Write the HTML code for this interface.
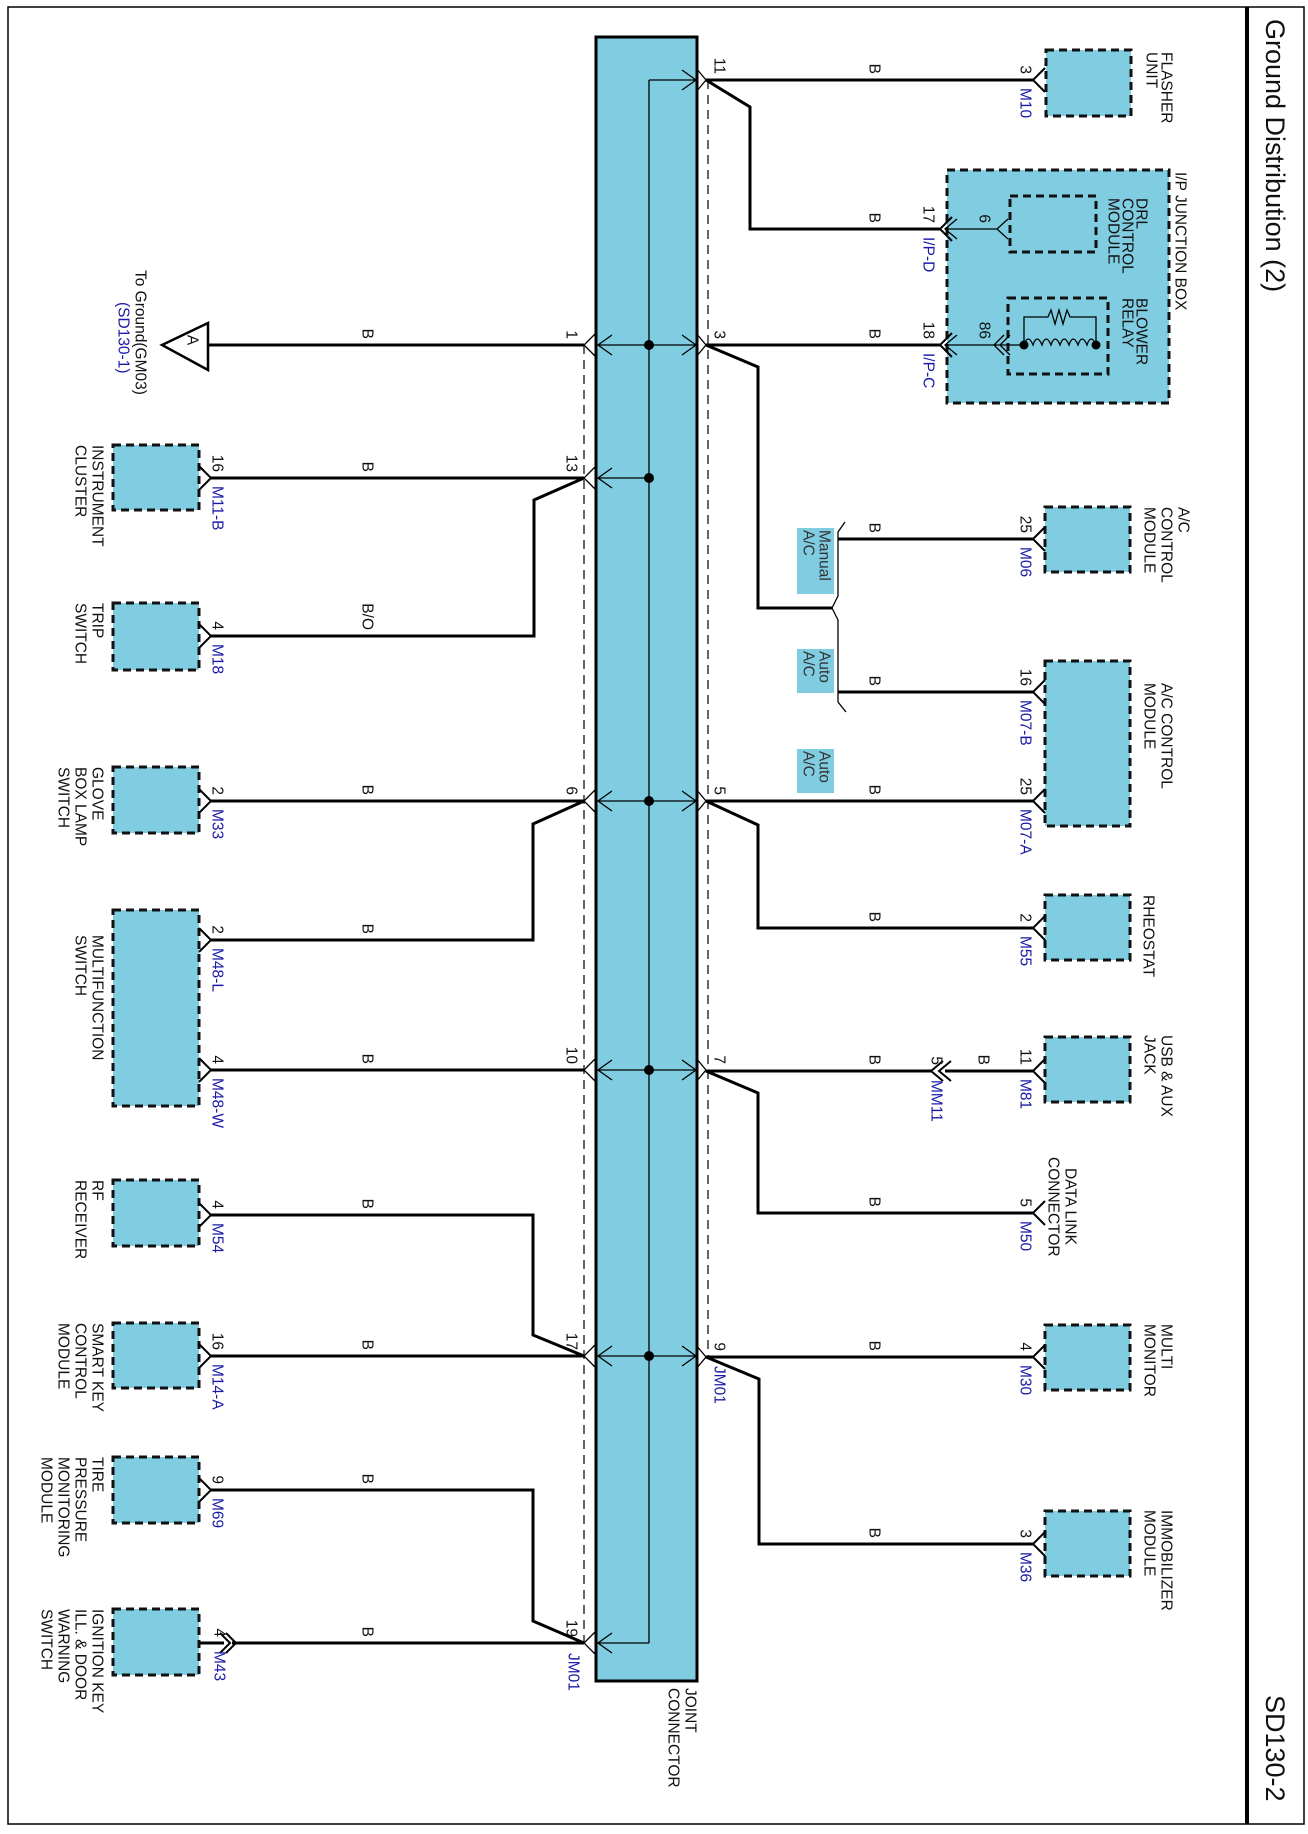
<!DOCTYPE html>
<html><head><meta charset="utf-8"><style>
html,body{margin:0;padding:0;background:#fff}
svg{display:block}
text{font-family:"Liberation Sans",Arial,sans-serif;font-size:15.5px;fill:#111;dominant-baseline:central}
.bl{fill:#1a1aa8}
.w{stroke:#000;stroke-width:3;fill:none}
.t{stroke:#000;stroke-width:1.3;fill:none}
.box{fill:#80cde2;stroke:#111;stroke-width:3;stroke-dasharray:8 5}
.dl{stroke:#000;stroke-width:1.2;stroke-dasharray:9 6;fill:none}
.lb{fill:#80cde2}
</style></head><body>
<svg width="1308" height="1834" viewBox="0 0 1308 1834" xmlns="http://www.w3.org/2000/svg">
<rect x="8" y="7" width="1296" height="1817" fill="none" stroke="#000" stroke-width="1.5"/>
<line x1="1247" y1="7" x2="1247" y2="1824" stroke="#000" stroke-width="4"/>
<text transform="translate(1275,19) rotate(90)" style="font-size:27px">Ground Distribution (2)</text>
<text transform="translate(1275,1695) rotate(90)" style="font-size:27px">SD130-2</text>

<!-- joint connector -->
<rect x="596" y="37" width="101" height="1644" fill="#80cde2" stroke="#000" stroke-width="3"/>
<text transform="translate(690,1688) rotate(90)">JOINT</text>
<text transform="translate(673,1688) rotate(90)">CONNECTOR</text>
<line x1="649" y1="80" x2="649" y2="1643" class="t"/>
<line x1="584" y1="345" x2="584" y2="1643" class="dl"/>
<line x1="708" y1="80" x2="708" y2="1357" class="dl"/>

<g class="t">
<path d="M649,80H696M682,70L696,80L682,90"/>
<path d="M598,345H696M612,335L598,345L612,355M682,335L696,345L682,355"/>
<path d="M598,478H649M612,468L598,478L612,488"/>
<path d="M598,801H696M612,791L598,801L612,811M682,791L696,801L682,811"/>
<path d="M598,1070H696M612,1060L598,1070L612,1080M682,1060L696,1070L682,1080"/>
<path d="M598,1356H696M612,1346L598,1356L612,1366M682,1346L696,1356L682,1366"/>
<path d="M649,1643H598M612,1633L598,1643L612,1653"/>
<path d="M596,333L584,345L596,357M596,466L584,478L596,490M596,789L584,801L596,813M596,1058L584,1070L596,1082M596,1344L584,1356L596,1368M596,1631L584,1643L596,1655"/>
<path d="M696,68L706,80L696,92M696,333L706,345L696,357M696,789L706,801L696,813M696,1058L706,1070L696,1082M696,1345L706,1357L696,1369"/>
</g>
<g fill="#000">
<circle cx="649" cy="345" r="5"/><circle cx="649" cy="478" r="5"/><circle cx="649" cy="801" r="5"/><circle cx="649" cy="1070" r="5"/><circle cx="649" cy="1356" r="5"/>
</g>

<text transform="translate(571,339) rotate(90)" text-anchor="end">1</text>
<text transform="translate(571,472) rotate(90)" text-anchor="end">13</text>
<text transform="translate(571,795) rotate(90)" text-anchor="end">6</text>
<text transform="translate(571,1064) rotate(90)" text-anchor="end">10</text>
<text transform="translate(571,1350) rotate(90)" text-anchor="end">17</text>
<text transform="translate(571,1637) rotate(90)" text-anchor="end">19</text>
<text transform="translate(573,1653) rotate(90)" class="bl">JM01</text>
<text transform="translate(719,74) rotate(90)" text-anchor="end">11</text>
<text transform="translate(719,339) rotate(90)" text-anchor="end">3</text>
<text transform="translate(719,795) rotate(90)" text-anchor="end">5</text>
<text transform="translate(719,1064) rotate(90)" text-anchor="end">7</text>
<text transform="translate(719,1351) rotate(90)" text-anchor="end">9</text>
<text transform="translate(719,1366) rotate(90)" class="bl">JM01</text>

<!-- RIGHT SIDE -->
<g class="w">
<path d="M706,80H1033"/>
<path d="M706,80L750,107V229H940"/>
<path d="M706,345H940"/>
<path d="M706,345L758,367V608H832"/>
<path d="M838,539H1033"/>
<path d="M838,692H1033"/>
<path d="M706,801H1033"/>
<path d="M706,801L758,825V928H1033"/>
<path d="M706,1071H931"/>
<path d="M945,1071H1033"/>
<path d="M706,1071L758,1093V1213H1033"/>
<path d="M706,1357H1033"/>
<path d="M706,1357L759,1379V1544H1033"/>
</g>
<path class="t" d="M845,522L838,532V596L832,608L838,620V702L846,712"/>
<rect x="797" y="528" width="37" height="66" class="lb"/>
<text transform="translate(824,530) rotate(90)" style="fill:#333">Manual</text>
<text transform="translate(808,530) rotate(90)" style="fill:#333">A/C</text>
<rect x="797" y="649" width="37" height="44" class="lb"/>
<text transform="translate(824,651) rotate(90)" style="fill:#333">Auto</text>
<text transform="translate(808,651) rotate(90)" style="fill:#333">A/C</text>
<rect x="797" y="749" width="37" height="44" class="lb"/>
<text transform="translate(824,751) rotate(90)" style="fill:#333">Auto</text>
<text transform="translate(808,751) rotate(90)" style="fill:#333">A/C</text>

<g>
<text transform="translate(874,74) rotate(90)" text-anchor="end">B</text>
<text transform="translate(874,223) rotate(90)" text-anchor="end">B</text>
<text transform="translate(874,339) rotate(90)" text-anchor="end">B</text>
<text transform="translate(874,533) rotate(90)" text-anchor="end">B</text>
<text transform="translate(874,686) rotate(90)" text-anchor="end">B</text>
<text transform="translate(874,795) rotate(90)" text-anchor="end">B</text>
<text transform="translate(874,922) rotate(90)" text-anchor="end">B</text>
<text transform="translate(874,1065) rotate(90)" text-anchor="end">B</text>
<text transform="translate(983,1065) rotate(90)" text-anchor="end">B</text>
<text transform="translate(874,1207) rotate(90)" text-anchor="end">B</text>
<text transform="translate(874,1351) rotate(90)" text-anchor="end">B</text>
<text transform="translate(874,1538) rotate(90)" text-anchor="end">B</text>
</g>

<rect x="1046" y="50" width="85" height="66" class="box"/>
<rect x="947" y="170" width="222" height="233" class="box"/>
<rect x="1010" y="196" width="86" height="56" class="box"/>
<rect x="1008" y="298" width="100" height="76" class="box"/>
<rect x="1045" y="507" width="85" height="65" class="box"/>
<rect x="1045" y="661" width="85" height="165" class="box"/>
<rect x="1045" y="895" width="85" height="65" class="box"/>
<rect x="1045" y="1037" width="85" height="65" class="box"/>
<rect x="1045" y="1325" width="85" height="65" class="box"/>
<rect x="1045" y="1511" width="85" height="65" class="box"/>

<g class="t" style="stroke-width:2">
<path d="M1045,68L1033,80L1045,92"/>
<path d="M952,217L940,229L952,241"/>
<path d="M952,333L940,345L952,357"/>
<path d="M1045,527L1033,539L1045,551"/>
<path d="M1045,680L1033,692L1045,704"/>
<path d="M1045,789L1033,801L1045,813"/>
<path d="M1045,916L1033,928L1045,940"/>
<path d="M1045,1059L1033,1071L1045,1083"/>
<path d="M1045,1201L1033,1213L1045,1225"/>
<path d="M1045,1345L1033,1357L1045,1369"/>
<path d="M1045,1532L1033,1544L1045,1556"/>
<path d="M943,1061L931,1071L943,1081M951,1061L939,1071L951,1081"/>
</g>
<g class="t">
<path d="M945,229H997M1008,219L997,229L1008,239"/>
<path d="M957,219L945,229L957,239" />
<path d="M945,345H1010M957,335L945,345L957,355M1004,335L994,345L1004,355M1010,335L1000,345L1010,355"/>
<path d="M1010,345H1024M1024,345V317H1048L1051,310L1055,324L1059,310L1063,324L1067,310L1070,317H1096V345"/>
<path d="M1024,345q4,-12 9,0q4,-12 9,0q4,-12 9,0q4,-12 9,0q4,-12 9,0q4,-12 9,0q4,-12 9,0q4,-12 9,0"/>
</g>
<circle cx="1024" cy="345" r="4.5"/><circle cx="1096" cy="345" r="4.5"/>

<text transform="translate(1025,74) rotate(90)" text-anchor="end">3</text>
<text transform="translate(1025,88) rotate(90)" class="bl">M10</text>
<text transform="translate(1166,52) rotate(90)">FLASHER</text>
<text transform="translate(1151,52) rotate(90)">UNIT</text>
<text transform="translate(1180,172) rotate(90)">I/P JUNCTION BOX</text>
<text transform="translate(1141,198) rotate(90)">DRL</text>
<text transform="translate(1127,198) rotate(90)">CONTROL</text>
<text transform="translate(1113,198) rotate(90)">MODULE</text>
<text transform="translate(1141,298) rotate(90)">BLOWER</text>
<text transform="translate(1127,298) rotate(90)">RELAY</text>
<text transform="translate(928,223) rotate(90)" text-anchor="end">17</text>
<text transform="translate(928,237) rotate(90)" class="bl">I/P-D</text>
<text transform="translate(984,223) rotate(90)" text-anchor="end">6</text>
<text transform="translate(928,339) rotate(90)" text-anchor="end">18</text>
<text transform="translate(928,353) rotate(90)" class="bl">I/P-C</text>
<text transform="translate(984,339) rotate(90)" text-anchor="end">86</text>

<text transform="translate(1025,533) rotate(90)" text-anchor="end">25</text>
<text transform="translate(1025,547) rotate(90)" class="bl">M06</text>
<text transform="translate(1183,507) rotate(90)">A/C</text>
<text transform="translate(1166,507) rotate(90)">CONTROL</text>
<text transform="translate(1149,507) rotate(90)">MODULE</text>
<text transform="translate(1025,686) rotate(90)" text-anchor="end">16</text>
<text transform="translate(1025,700) rotate(90)" class="bl">M07-B</text>
<text transform="translate(1025,795) rotate(90)" text-anchor="end">25</text>
<text transform="translate(1025,809) rotate(90)" class="bl">M07-A</text>
<text transform="translate(1166,683) rotate(90)">A/C CONTROL</text>
<text transform="translate(1149,683) rotate(90)">MODULE</text>
<text transform="translate(1025,922) rotate(90)" text-anchor="end">2</text>
<text transform="translate(1025,936) rotate(90)" class="bl">M55</text>
<text transform="translate(1148,895) rotate(90)">RHEOSTAT</text>
<text transform="translate(1025,1065) rotate(90)" text-anchor="end">11</text>
<text transform="translate(1025,1079) rotate(90)" class="bl">M81</text>
<text transform="translate(1166,1035) rotate(90)">USB &amp; AUX</text>
<text transform="translate(1149,1035) rotate(90)">JACK</text>
<text transform="translate(936,1065) rotate(90)" text-anchor="end">5</text>
<text transform="translate(936,1080) rotate(90)" class="bl">MM11</text>
<text transform="translate(1025,1207) rotate(90)" text-anchor="end">5</text>
<text transform="translate(1025,1221) rotate(90)" class="bl">M50</text>
<text transform="translate(1070,1168) rotate(90)">DATA LINK</text>
<text transform="translate(1053,1157) rotate(90)">CONNECTOR</text>
<text transform="translate(1025,1351) rotate(90)" text-anchor="end">4</text>
<text transform="translate(1025,1365) rotate(90)" class="bl">M30</text>
<text transform="translate(1166,1324) rotate(90)">MULTI</text>
<text transform="translate(1149,1324) rotate(90)">MONITOR</text>
<text transform="translate(1025,1538) rotate(90)" text-anchor="end">3</text>
<text transform="translate(1025,1552) rotate(90)" class="bl">M36</text>
<text transform="translate(1166,1510) rotate(90)">IMMOBILIZER</text>
<text transform="translate(1149,1510) rotate(90)">MODULE</text>

<!-- LEFT SIDE -->
<g class="w">
<path d="M208,345H584"/>
<path d="M211,478H584"/>
<path d="M584,478L534,500V636H211"/>
<path d="M211,801H584"/>
<path d="M584,801L533,824V940H211"/>
<path d="M211,1070H584"/>
<path d="M211,1215H533V1335L584,1356"/>
<path d="M211,1356H584"/>
<path d="M211,1490H533V1621L584,1643"/>
<path d="M232,1643H584"/>
<path d="M199,1643H224"/>
</g>
<path d="M162,345L208,323V370Z" fill="#fff" stroke="#000" stroke-width="2.5"/>
<text transform="translate(192,340) rotate(90)" text-anchor="middle">A</text>
<text transform="translate(140,270) rotate(90)">To Ground(GM03)</text>
<text transform="translate(123,302) rotate(90)" class="bl">(SD130-1)</text>

<rect x="113" y="445" width="86" height="65" class="box"/>
<rect x="113" y="603" width="86" height="67" class="box"/>
<rect x="113" y="767" width="86" height="66" class="box"/>
<rect x="113" y="910" width="86" height="196" class="box"/>
<rect x="113" y="1180" width="86" height="66" class="box"/>
<rect x="113" y="1323" width="86" height="65" class="box"/>
<rect x="113" y="1457" width="86" height="66" class="box"/>
<rect x="113" y="1609" width="86" height="66" class="box"/>
<g class="t" style="stroke-width:2">
<path d="M199,466L211,478L199,490"/>
<path d="M199,624L211,636L199,648"/>
<path d="M199,789L211,801L199,813"/>
<path d="M199,928L211,940L199,952"/>
<path d="M199,1058L211,1070L199,1082"/>
<path d="M199,1203L211,1215L199,1227"/>
<path d="M199,1344L211,1356L199,1368"/>
<path d="M199,1478L211,1490L199,1502"/>
<path d="M220,1633L230,1643L220,1653M226,1633L236,1643L226,1653"/>
</g>

<text transform="translate(367,339) rotate(90)" text-anchor="end">B</text>
<text transform="translate(367,472) rotate(90)" text-anchor="end">B</text>
<text transform="translate(367,630) rotate(90)" text-anchor="end">B/O</text>
<text transform="translate(367,795) rotate(90)" text-anchor="end">B</text>
<text transform="translate(367,934) rotate(90)" text-anchor="end">B</text>
<text transform="translate(367,1064) rotate(90)" text-anchor="end">B</text>
<text transform="translate(367,1209) rotate(90)" text-anchor="end">B</text>
<text transform="translate(367,1350) rotate(90)" text-anchor="end">B</text>
<text transform="translate(367,1484) rotate(90)" text-anchor="end">B</text>
<text transform="translate(367,1637) rotate(90)" text-anchor="end">B</text>

<text transform="translate(217,472) rotate(90)" text-anchor="end">16</text>
<text transform="translate(217,486) rotate(90)" class="bl">M11-B</text>
<text transform="translate(97,445) rotate(90)">INSTRUMENT</text>
<text transform="translate(80,445) rotate(90)">CLUSTER</text>
<text transform="translate(217,630) rotate(90)" text-anchor="end">4</text>
<text transform="translate(217,644) rotate(90)" class="bl">M18</text>
<text transform="translate(97,603) rotate(90)">TRIP</text>
<text transform="translate(80,603) rotate(90)">SWITCH</text>
<text transform="translate(217,795) rotate(90)" text-anchor="end">2</text>
<text transform="translate(217,809) rotate(90)" class="bl">M33</text>
<text transform="translate(97,767) rotate(90)">GLOVE</text>
<text transform="translate(80,767) rotate(90)">BOX LAMP</text>
<text transform="translate(63,767) rotate(90)">SWITCH</text>
<text transform="translate(217,934) rotate(90)" text-anchor="end">2</text>
<text transform="translate(217,948) rotate(90)" class="bl">M48-L</text>
<text transform="translate(217,1064) rotate(90)" text-anchor="end">4</text>
<text transform="translate(217,1078) rotate(90)" class="bl">M48-W</text>
<text transform="translate(97,935) rotate(90)">MULTIFUNCTION</text>
<text transform="translate(80,935) rotate(90)">SWITCH</text>
<text transform="translate(217,1209) rotate(90)" text-anchor="end">4</text>
<text transform="translate(217,1223) rotate(90)" class="bl">M54</text>
<text transform="translate(97,1180) rotate(90)">RF</text>
<text transform="translate(80,1180) rotate(90)">RECEIVER</text>
<text transform="translate(217,1350) rotate(90)" text-anchor="end">16</text>
<text transform="translate(217,1364) rotate(90)" class="bl">M14-A</text>
<text transform="translate(97,1323) rotate(90)">SMART KEY</text>
<text transform="translate(80,1323) rotate(90)">CONTROL</text>
<text transform="translate(63,1323) rotate(90)">MODULE</text>
<text transform="translate(217,1484) rotate(90)" text-anchor="end">9</text>
<text transform="translate(217,1498) rotate(90)" class="bl">M69</text>
<text transform="translate(97,1457) rotate(90)">TIRE</text>
<text transform="translate(80,1457) rotate(90)">PRESSURE</text>
<text transform="translate(63,1457) rotate(90)">MONITORING</text>
<text transform="translate(46,1457) rotate(90)">MODULE</text>
<text transform="translate(219,1637) rotate(90)" text-anchor="end">4</text>
<text transform="translate(219,1651) rotate(90)" class="bl">M43</text>
<text transform="translate(97,1609) rotate(90)">IGNITION KEY</text>
<text transform="translate(80,1609) rotate(90)">ILL. &amp; DOOR</text>
<text transform="translate(63,1609) rotate(90)">WARNING</text>
<text transform="translate(46,1609) rotate(90)">SWITCH</text>
</svg>
</body></html>
